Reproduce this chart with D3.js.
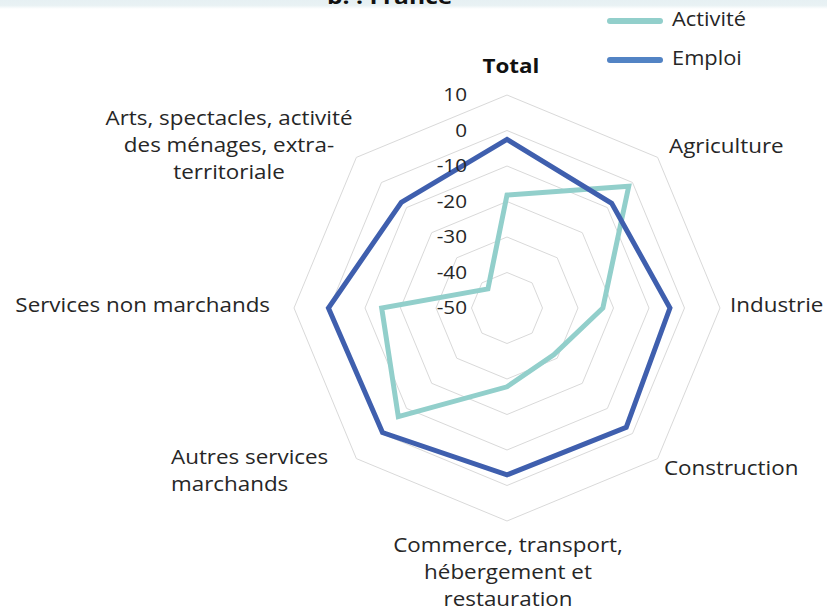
<!DOCTYPE html>
<html lang="fr">
<head>
<meta charset="utf-8">
<script src="https://cdn.jsdelivr.net/npm/d3@7"></script>
<style>
  body { margin: 0; background: #fff; }
  text { font-family: "Open Sans", sans-serif; fill: #262626; }
</style>
</head>
<body>
<div id="chart"></div>
<script>
// axes of the radar, clockwise from the top
var categories = [
  ["Total"],
  ["Agriculture"],
  ["Industrie"],
  ["Construction"],
  ["Commerce, transport,", "hébergement et", "restauration"],
  ["Autres services", "marchands"],
  ["Services non marchands"],
  ["Arts, spectacles, activité", "des ménages, extra-", "territoriale"]
];
var seriesNames = ["Activité", "Emploi"];
var activite = [-18.2, -1.5, -23, -31.4, -27.8, -6.7, -14.7, -42.4];
var emploi = [-2.5, -8.3, -4.1, -2.5, -3.0, -0.4, 0.3, -7.9];
var ticks = [10, 0, -10, -20, -30, -40, -50];

var W = 827, H = 607;
var cx = 507, cy = 308;
var sx = 1.12; // the source text is a bit wider than Open Sans

var svg = d3.select("#chart").append("svg")
    .attr("width", W)
    .attr("height", H);

// small helper: text block stretched horizontally around its anchor point
function label(x, y, lines, size, anchor, weight, color) {
  var t = svg.append("text")
      .attr("transform", "translate(" + x + "," + y + ") scale(" + sx + ",1)")
      .attr("text-anchor", anchor)
      .style("font-size", size + "px")
      .style("font-weight", weight || "normal")
      .style("fill", color || "#262626");
  lines.forEach(function(l, k) {
    t.append("tspan").attr("x", 0).attr("y", k * 27).attr("dy", "0.35em").text(l);
  });
  return t;
}

// light band with cut title at the top
var grad = svg.append("defs").append("linearGradient")
    .attr("id", "band").attr("x1", 0).attr("x2", 0).attr("y1", 0).attr("y2", 1);
grad.append("stop").attr("offset", "0%").attr("stop-color", "#e6f0f3");
grad.append("stop").attr("offset", "60%").attr("stop-color", "#e9f2f4");
grad.append("stop").attr("offset", "100%").attr("stop-color", "#ffffff");
svg.append("rect").attr("x", 0).attr("y", 0).attr("width", W).attr("height", 9)
    .attr("fill", "url(#band)");
svg.append("text")
    .attr("transform", "translate(327,4) scale(" + sx + ",1)")
    .style("font-weight", "bold").style("font-size", "22px").style("fill", "#111")
    .text("b. : France");

var r = d3.scaleLinear().domain([-50, 10]).range([0, 213]);
var angle = d3.scaleLinear().domain([0, categories.length]).range([0, 2 * Math.PI]);

var g = svg.append("g").attr("transform", "translate(" + cx + "," + cy + ")");

function pt(i, v) {
  var a = angle(i);
  return [Math.sin(a) * r(v), -Math.cos(a) * r(v)];
}

// grid rings
var rings = ticks.filter(function(t) { return t > -50; });
g.selectAll(".ring").data(rings).enter().append("polygon")
    .attr("class", "ring")
    .attr("points", function(t) {
      return categories.map(function(c, i) { return pt(i, t).join(","); }).join(" ");
    })
    .attr("fill", "none")
    .attr("stroke", "#d9d9d9")
    .attr("stroke-width", 1);

// series
var line = d3.line().curve(d3.curveLinearClosed);
var colors = {"Activité": "#92cfcb", "Emploi": "#3f5fae"};
[[ "Activité", activite ], [ "Emploi", emploi ]].forEach(function(s) {
  g.append("path")
      .attr("d", line(s[1].map(function(v, i) { return pt(i, v); })))
      .attr("fill", "none")
      .attr("stroke", colors[s[0]])
      .attr("stroke-width", 5)
      .attr("stroke-linejoin", "miter");
});

// tick labels along the top axis
ticks.forEach(function(t) {
  label(cx - 40, cy - r(t), [String(t)], 18.5, "end");
});

// category labels
var labelPos = [
  {x: 511, y: 66, anchor: "middle", bold: true},
  {x: 669, y: 146, anchor: "start"},
  {x: 730, y: 305, anchor: "start"},
  {x: 664, y: 468, anchor: "start"},
  {x: 508, y: 545, anchor: "middle"},
  {x: 171, y: 457, anchor: "start"},
  {x: 270, y: 305, anchor: "end"},
  {x: 229, y: 118, anchor: "middle"}
];
categories.forEach(function(lines, i) {
  var p = labelPos[i];
  label(p.x, p.y, lines, 20, p.anchor, p.bold ? "bold" : "normal", p.bold ? "#111" : "#262626");
});

// legend
seriesNames.forEach(function(n, i) {
  var y = 21 + i * 39;
  svg.append("line")
      .attr("x1", 610).attr("x2", 660).attr("y1", y).attr("y2", y)
      .attr("stroke", n === "Emploi" ? "#5283c4" : colors[n])
      .attr("stroke-width", 6)
      .attr("stroke-linecap", "round");
  label(672, y - 2, [n], 19.5, "start");
});
</script>
</body>
</html>
